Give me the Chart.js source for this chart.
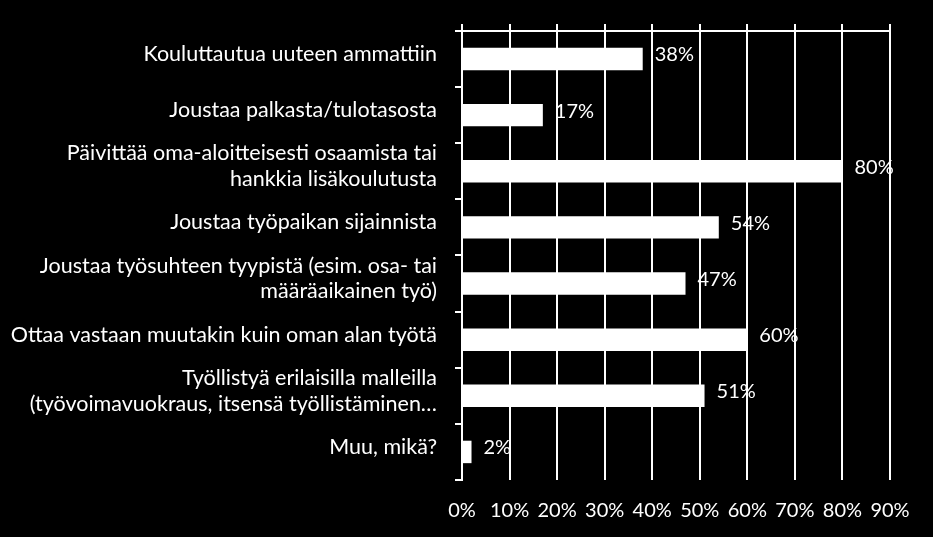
<!DOCTYPE html>
<html>
<head>
<meta charset="utf-8">
<script src="https://cdn.jsdelivr.net/npm/chart.js@4"></script>
<style>
  html, body { margin: 0; padding: 0; background: #000; }
  #wrap { width: 933px; height: 537px; }
</style>
</head>
<body>
<div id="wrap"><canvas id="chart"></canvas></div>
<script>
const categories = [
    "Kouluttautua uuteen ammattiin",
    "Joustaa palkasta/tulotasosta",
    ["Päivittää oma-aloitteisesti osaamista tai", "hankkia lisäkoulutusta"],
    "Joustaa työpaikan sijainnista",
    ["Joustaa työsuhteen tyypistä (esim. osa- tai", "määräaikainen työ)"],
    "Ottaa vastaan muutakin kuin oman alan työtä",
    ["Työllistyä erilaisilla malleilla", "(työvoimavuokraus, itsensä työllistäminen…"],
    "Muu, mikä?"
];
const values = [38, 17, 80, 54, 47, 60, 51, 2];
const xTicks = [0, 10, 20, 30, 40, 50, 60, 70, 80, 90];

const FONT = "Lato, 'DejaVu Sans', sans-serif";

// value labels right of each bar
const valueLabels = {
    id: 'valueLabels',
    afterDatasetsDraw(chart) {
        let ctx = chart.ctx;
        let meta = chart.getDatasetMeta(0);
        ctx.save();
        ctx.fillStyle = '#fff';
        ctx.font = "20px " + FONT;
        ctx.textBaseline = 'middle';
        ctx.textAlign = 'left';
        meta.data.forEach((bar, i) => {
            ctx.fillText(values[i] + '%', bar.x + 12, bar.y - 4);
        });
        ctx.restore();
    }
};

new Chart(document.getElementById("chart").getContext("2d"), {
    type: 'bar',
    data: {
        labels: categories,
        datasets: [{
            data: values,
            backgroundColor: '#fff',
            borderWidth: 0,
            barPercentage: 0.8,
            categoryPercentage: 0.5,
            xAxisID: 'x'
        }]
    },
    options: {
        indexAxis: 'y',
        responsive: true,
        maintainAspectRatio: false,
        animation: false,
        layout: { padding: { top: 16, right: 43, bottom: 0, left: 0 } },
        plugins: { legend: { display: false }, tooltip: { enabled: false } },
        scales: {
            x: {
                position: 'bottom',
                min: 0, max: 90,
                afterBuildTicks: s => { s.ticks = xTicks.map(v => ({ value: v })); },
                ticks: { color: '#fff', font: { family: FONT, size: 20 }, padding: 19, callback: v => v + '%' },
                grid: { color: '#fff', lineWidth: 2, drawTicks: false },
                border: { display: false },
                afterFit: s => { s.height = 57; }
            },
            xTop: {
                position: 'top',
                min: 0, max: 90,
                afterBuildTicks: s => { s.ticks = xTicks.map(v => ({ value: v })); },
                ticks: { display: false },
                grid: { color: '#fff', lineWidth: 2, drawOnChartArea: false, tickLength: 7 },
                border: { display: true, color: '#fff', width: 2 }
            },
            y: {
                ticks: { color: '#fff', font: { family: FONT, size: 21.5, lineHeight: 1.2 }, padding: 18, labelOffset: -5, autoSkip: false },
                grid: { color: '#fff', lineWidth: 2, drawOnChartArea: false, tickLength: 7, offset: true },
                border: { display: true, color: '#fff', width: 2 },
                afterFit: s => { s.width = 462; }
            }
        }
    },
    plugins: [valueLabels]
});
</script>
</body>
</html>
